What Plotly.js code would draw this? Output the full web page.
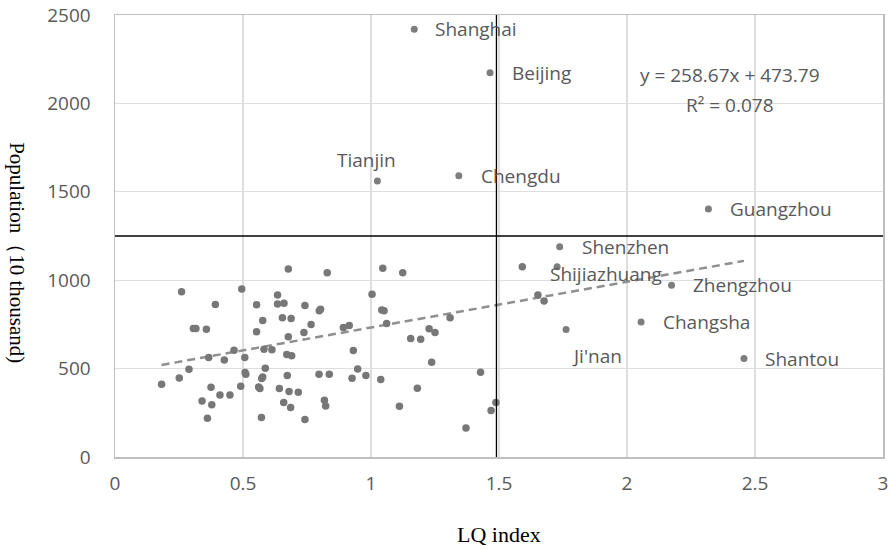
<!DOCTYPE html>
<html>
<head>
<meta charset="utf-8">
<script src="https://cdn.plot.ly/plotly-3.0.1.min.js"></script>
<style>
html,body{margin:0;padding:0;background:#fff;}
#chart{width:890px;height:549px;}
</style>
</head>
<body>
<div id="chart"></div>
<script>
// ---- data ----
const lqIndex = [0.677,0.829,1.046,1.124,0.260,0.495,0.635,1.004,0.392,0.553,0.635,0.660,0.742,0.798,0.803,1.042,1.051,0.577,0.654,0.688,0.766,0.738,0.892,0.915,1.061,0.306,0.316,0.357,0.677,0.553,0.582,0.613,0.465,0.366,0.427,0.507,0.671,0.690,0.931,0.289,0.182,0.251,0.375,0.508,0.511,0.587,0.577,0.573,0.673,0.797,0.837,0.926,0.948,0.980,1.038,0.491,0.561,0.566,0.642,0.680,0.716,0.410,0.449,0.340,0.378,0.659,0.686,0.818,0.823,0.361,0.572,0.742,1.309,1.155,1.194,1.227,1.250,1.237,1.428,1.181,1.111,1.488,1.469,1.371,1.591,1.652,1.676];
const population = [1063,1042,1068,1042,934,950,916,920,863,861,865,869,857,827,835,831,827,772,787,784,750,704,733,744,755,727,727,723,680,708,610,606,604,563,549,563,580,572,602,497,412,447,395,478,468,502,453,444,461,468,468,446,498,461,438,400,396,387,387,370,366,351,351,317,295,308,280,321,289,219,223,212,787,670,666,725,704,536,480,389,287,308,263,164,1076,916,882];

const cityNames = ["Shanghai","Beijing","Tianjin","Chengdu","Guangzhou","Shenzhen","Shijiazhuang","Zhengzhou","Changsha","Ji'nan","Shantou"];
const cityLQ    = [1.169,1.465,1.025,1.343,2.318,1.737,1.727,2.174,2.055,1.762,2.457];
const cityPop   = [2420,2174,1561,1591,1403,1189,1076,972,763,721,557];

const trendSlope = 258.67;
const trendIntercept = 473.79;
const trendEquation = "y = 258.67x + 473.79";
const trendR2 = "R\u00b2 = 0.078";

const lqThreshold = 1.49;
const popThreshold = 1250;

const xTicks = [0,0.5,1,1.5,2,2.5,3];
const yTicks = [0,500,1000,1500,2000,2500];

// ---- label placement (pixel shifts relative to each city point) ----
const labelStyle = {
  "Shanghai":     {xanchor:"left",   xshift:19,  yshift:0},
  "Beijing":      {xanchor:"left",   xshift:20,  yshift:0},
  "Tianjin":      {xanchor:"center", xshift:-11, yshift:21},
  "Chengdu":      {xanchor:"left",   xshift:20,  yshift:0},
  "Guangzhou":    {xanchor:"left",   xshift:20,  yshift:0},
  "Shenzhen":     {xanchor:"left",   xshift:20,  yshift:0},
  "Shijiazhuang": {xanchor:"left",   xshift:-9,  yshift:-7},
  "Zhengzhou":    {xanchor:"left",   xshift:19,  yshift:0},
  "Changsha":     {xanchor:"left",   xshift:20,  yshift:0},
  "Ji'nan":       {xanchor:"left",   xshift:4,   yshift:-26},
  "Shantou":      {xanchor:"left",   xshift:19,  yshift:0}
};

const allX = lqIndex.concat(cityLQ);
const xMin = Math.min.apply(null, allX);
const xMax = Math.max.apply(null, allX);

const sans = "'Open Sans', 'Noto Sans', sans-serif";
const serif = "'Liberation Serif', 'Times New Roman', serif";
const textGrey = "#595959";
const dotColor = "#777777";

const traces = [
  {
    x: [xMin, xMax],
    y: [trendSlope*xMin + trendIntercept, trendSlope*xMax + trendIntercept],
    mode: "lines",
    line: {color: "#8f8f8f", width: 2.5, dash: "8px,5px"},
    hoverinfo: "skip"
  },
  {
    x: lqIndex, y: population, mode: "markers",
    marker: {color: dotColor, size: 7.5, line: {width: 0}}
  },
  {
    x: cityLQ, y: cityPop, mode: "markers", text: cityNames,
    marker: {color: "#7d7d7d", size: 7, line: {width: 0}}
  }
];

const annotations = cityNames.map((n, i) => ({
  x: cityLQ[i], y: cityPop[i], xref: "x", yref: "y",
  text: n, showarrow: false,
  xanchor: labelStyle[n].xanchor, yanchor: "middle",
  xshift: labelStyle[n].xshift, yshift: labelStyle[n].yshift,
  font: {family: sans, size: 19, color: textGrey}
}));

annotations.push(
  {xref:"paper", yref:"paper", x:0.8008, y:0.8642, text: trendEquation, showarrow:false,
   xanchor:"center", yanchor:"middle", font:{family:sans, size:19, color:textGrey}},
  {xref:"paper", yref:"paper", x:0.8008, y:0.7962, text: trendR2, showarrow:false,
   xanchor:"center", yanchor:"middle", font:{family:sans, size:19, color:textGrey}},
  {xref:"paper", yref:"paper", x:0, y:0.4634, xshift:-98, text:"Population（10 thousand)",
   showarrow:false, textangle:90, xanchor:"center", yanchor:"middle",
   font:{family:serif, size:21, color:"#000"}},
  {xref:"paper", yref:"paper", x:0.5, y:0, yshift:-77, text:"LQ index",
   showarrow:false, xanchor:"center", yanchor:"middle",
   font:{family:serif, size:22, color:"#000"}}
);

const layout = {
  width: 890, height: 549,
  margin: {l:115, r:7, t:15, b:92, pad:0},
  paper_bgcolor: "#fff", plot_bgcolor: "#fff",
  showlegend: false,
  hovermode: false,
  xaxis: {
    range: [0, 3], tickvals: xTicks, ticktext: xTicks.map(String),
    showgrid: true, gridcolor: "#dedede", gridwidth: 1.3,
    zeroline: false, showline: true, mirror: true, linecolor: "#bfbfbf", linewidth: 1.5,
    ticks: "", ticklabelstandoff: 9,
    tickfont: {family: sans, size: 19, color: textGrey}
  },
  yaxis: {
    range: [0, 2500], tickvals: yTicks, ticktext: yTicks.map(String),
    showgrid: true, gridcolor: "#dedede", gridwidth: 1.3,
    zeroline: false, showline: true, mirror: true, linecolor: "#bfbfbf", linewidth: 1.5,
    ticks: "", ticklabelstandoff: 19,
    tickfont: {family: sans, size: 19, color: textGrey}
  },
  shapes: [
    {type:"line", xref:"x", yref:"paper", x0:lqThreshold, x1:lqThreshold, y0:0, y1:1,
     line:{color:"#000", width:1.3}},
    {type:"line", xref:"paper", yref:"y", x0:0, x1:1, y0:popThreshold, y1:popThreshold,
     line:{color:"#000", width:1.3}}
  ],
  annotations: annotations
};

Plotly.newPlot("chart", traces, layout, {staticPlot: true, displayModeBar: false});
</script>
</body>
</html>
